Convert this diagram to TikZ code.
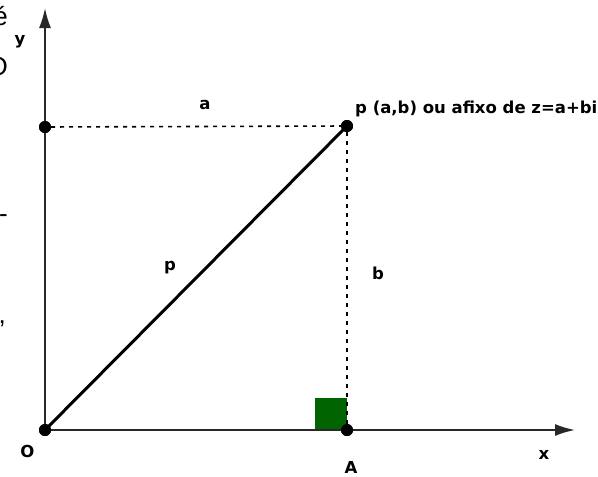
\documentclass[tikz,border=0pt]{standalone}
\usepackage{fontspec}
\setmainfont{DejaVu Sans}
\newfontfamily\fragfont{Liberation Sans}
\usetikzlibrary{arrows.meta}
\definecolor{sqgreen}{RGB}{0,100,0}
\definecolor{axisgray}{RGB}{40,40,40}
\begin{document}
\begin{tikzpicture}[x=1pt,y=-1pt,
  axisline/.style={draw=axisgray,line width=1.8pt,-{Latex[length=20pt,width=12pt]}},
  rholine/.style={draw=black,line width=3pt},
  dotline/.style={draw=black,line width=1.6pt,dash pattern=on 4pt off 5pt},
  pt/.style={circle,fill=black,inner sep=0pt,minimum size=12pt},
  lbl/.style={font=\bfseries\fontsize{16.5}{18}\selectfont,inner sep=0pt},
  frag/.style={font=\fragfont\fontsize{26}{30}\selectfont,inner sep=0pt,anchor=base east}]
\useasboundingbox (0,0) rectangle (598,477);
\clip (0,0) rectangle (598,477);
% fragments of surrounding text, cut at the left edge
\node[frag] (f1) at (8,25) {é};
\node[frag] (f2) at (8,75) {O};
\node[frag] (f3) at (8,222) {-};
\node[frag] (f4) at (6,323) {,};
% points
\coordinate (yend) at (45,8);
\coordinate (xend) at (575,430);
\node[pt] (O) at (45,430) {};
\node[pt] (A) at (347,430) {};
\node[pt] (P) at (347,126) {};
\node[pt] (B) at (45,127) {};
% right-angle square
\fill[sqgreen] (315,398) rectangle (A.center);
% axes
\draw[axisline] (O.center) -- (yend);
\draw[axisline] (O.center) -- (xend);
% dotted projections
\draw[dotline] (B) -- (P);
\draw[dotline] (P) -- (A);
% modulus
\draw[rholine] (O.center) -- (P.center);
% redraw points on top
\node[pt] at (O) {};
\node[pt] at (A) {};
\node[pt] at (P) {};
\node[pt] at (B) {};
% labels
\node[lbl] (ly) at (20,42) {y};
\node[lbl] (lx) at (544,455) {x};
\node[lbl] (lO) at (27.5,451.5) {O};
\node[lbl] (lA) at (351,467) {A};
\node[lbl] (la) at (205,105) {a};
\node[lbl] (lb) at (378,273) {b};
\node[lbl] (lr) at (170,268) {p};
\node[lbl,anchor=base west] (lP) at (355,113) {p (a,b) ou afixo de z=a+bi};
\end{tikzpicture}
\end{document}
